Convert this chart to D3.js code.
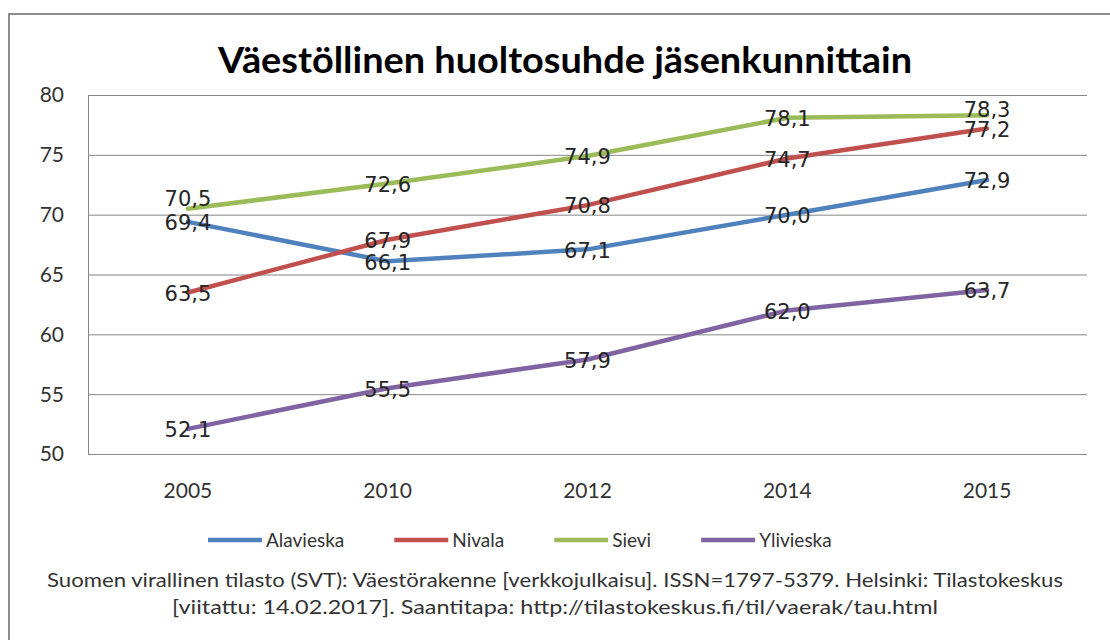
<!DOCTYPE html>
<html>
<head>
<meta charset="utf-8">
<script src="https://cdn.jsdelivr.net/npm/d3@7"></script>
<style>
  body { margin: 0; background: #fff; }
</style>
</head>
<body>
<script>
// Data
const years = ["2005", "2010", "2012", "2014", "2015"];
const seriesNames = ["Alavieska", "Nivala", "Sievi", "Ylivieska"];
const alavieska = [69.4, 66.1, 67.1, 70.0, 72.9];
const nivala = [63.5, 67.9, 70.8, 74.7, 77.2];
const sievi = [70.5, 72.6, 74.9, 78.1, 78.3];
const ylivieska = [52.1, 55.5, 57.9, 62.0, 63.7];
const yTicks = [50, 55, 60, 65, 70, 75, 80];
const titleText = "Väestöllinen huoltosuhde jäsenkunnittain";
const sourceLines = [
    "Suomen virallinen tilasto (SVT): Väestörakenne [verkkojulkaisu]. ISSN=1797-5379. Helsinki: Tilastokeskus",
    "[viitattu: 14.02.2017]. Saantitapa: http://tilastokeskus.fi/til/vaerak/tau.html"
];

// Styling
const colors = ["#4F81BD", "#C0504D", "#9BBB59", "#8064A2"];
const color_grid = "#868686";
const font_ui = "Lato, 'Open Sans', sans-serif";
const font_labels = "'DejaVu Sans', Verdana, sans-serif";
// Labels that were moved by hand in the original chart (series index, year index, dy)
const labelNudge = [
    { s: 2, i: 0, dy: -11 },
    { s: 2, i: 4, dy: -7 }
];
// Widths of the source lines in the original (Calibri is narrower than Lato)
const sourceWidths = [1016, 766];

const W = 1110, H = 640;
const plot = { left: 88, right: 1087, top: 95, bottom: 454 };

const svg = d3.select("body")
    .append("svg")
    .attr("width", W)
    .attr("height", H);

// Outer chart frame (only left and top edges visible)
svg.append("path")
    .attr("d", `M9,${H} L9,14 L${W},14`)
    .attr("fill", "none")
    .attr("stroke", "#8c8c8c")
    .attr("stroke-width", 2);

// Title
svg.append("text")
    .attr("x", 565)
    .attr("y", 73)
    .attr("text-anchor", "middle")
    .attr("font-family", font_ui)
    .attr("font-weight", "bold")
    .style("font-size", "37px")
    .attr("textLength", 694)
    .attr("lengthAdjust", "spacingAndGlyphs")
    .attr("fill", "#000")
    .text(titleText);

// Scales
const x = d3.scalePoint()
    .domain(years)
    .range([plot.left, plot.right])
    .padding(0.5);

const y = d3.scaleLinear()
    .domain([50, 80])
    .range([plot.bottom, plot.top]);

// Gridlines
svg.append("g")
    .selectAll("line")
    .data(yTicks)
    .enter()
    .append("line")
    .attr("x1", plot.left)
    .attr("x2", plot.right)
    .attr("y1", d => y(d) + 0.5)
    .attr("y2", d => y(d) + 0.5)
    .attr("stroke", color_grid)
    .attr("stroke-width", 1);

// Y axis line
svg.append("line")
    .attr("x1", plot.left + 0.5)
    .attr("x2", plot.left + 0.5)
    .attr("y1", plot.top)
    .attr("y2", plot.bottom)
    .attr("stroke", color_grid);

// Y axis labels
svg.append("g")
    .selectAll("text")
    .data(yTicks)
    .enter()
    .append("text")
    .attr("x", 64)
    .attr("y", d => y(d))
    .attr("dy", "0.35em")
    .attr("text-anchor", "end")
    .attr("font-family", font_ui)
    .style("font-size", "21px")
    .attr("fill", "#333")
    .text(d => d);

// X axis labels
svg.append("g")
    .selectAll("text")
    .data(years)
    .enter()
    .append("text")
    .attr("x", d => x(d))
    .attr("y", 498)
    .attr("text-anchor", "middle")
    .attr("font-family", font_ui)
    .style("font-size", "21px")
    .attr("fill", "#333")
    .text(d => d);

// Lines
const allSeries = [alavieska, nivala, sievi, ylivieska];
const line = d3.line()
    .x((d, i) => x(years[i]))
    .y(d => y(d));

allSeries.forEach((values, s) => {
    svg.append("path")
        .datum(values)
        .attr("fill", "none")
        .attr("stroke", colors[s])
        .attr("stroke-width", 4.5)
        .attr("stroke-linejoin", "round")
        .attr("stroke-linecap", "round")
        .attr("d", line);
});

// Data labels (centered on the points)
allSeries.forEach((values, s) => {
    svg.append("g")
        .selectAll("text")
        .data(values)
        .enter()
        .append("text")
        .attr("x", (d, i) => x(years[i]))
        .attr("y", (d, i) => {
            const n = labelNudge.find(o => o.s === s && o.i === i);
            return y(d) + (n ? n.dy : 0);
        })
        .attr("dy", "0.4em")
        .attr("text-anchor", "middle")
        .attr("font-family", font_labels)
        .style("font-size", "21px")
        .attr("fill", "#262626")
        .text(d => d.toFixed(1).replace(".", ","));
});

// Legend
const legend = svg.append("g");
const legendY = 540;
const lineLen = 54;
const textGap = 4;
let lx = 208;
seriesNames.forEach((name, s) => {
    legend.append("line")
        .attr("x1", lx)
        .attr("x2", lx + lineLen)
        .attr("y1", legendY)
        .attr("y2", legendY)
        .attr("stroke", colors[s])
        .attr("stroke-width", 4.5);
    const t = legend.append("text")
        .attr("x", lx + lineLen + textGap)
        .attr("y", legendY)
        .attr("dy", "0.35em")
        .attr("font-family", font_ui)
        .style("font-size", "19px")
        .attr("fill", "#333")
        .text(name);
    lx += lineLen + textGap + t.node().getComputedTextLength() + 50;
});

// Source text
svg.append("g")
    .selectAll("text")
    .data(sourceLines)
    .enter()
    .append("text")
    .attr("x", 555)
    .attr("y", (d, i) => 587 + i * 27)
    .attr("text-anchor", "middle")
    .attr("font-family", font_ui)
    .style("font-size", "20px")
    .attr("textLength", (d, i) => sourceWidths[i])
    .attr("lengthAdjust", "spacingAndGlyphs")
    .attr("fill", "#333")
    .text(d => d);
</script>
</body>
</html>
